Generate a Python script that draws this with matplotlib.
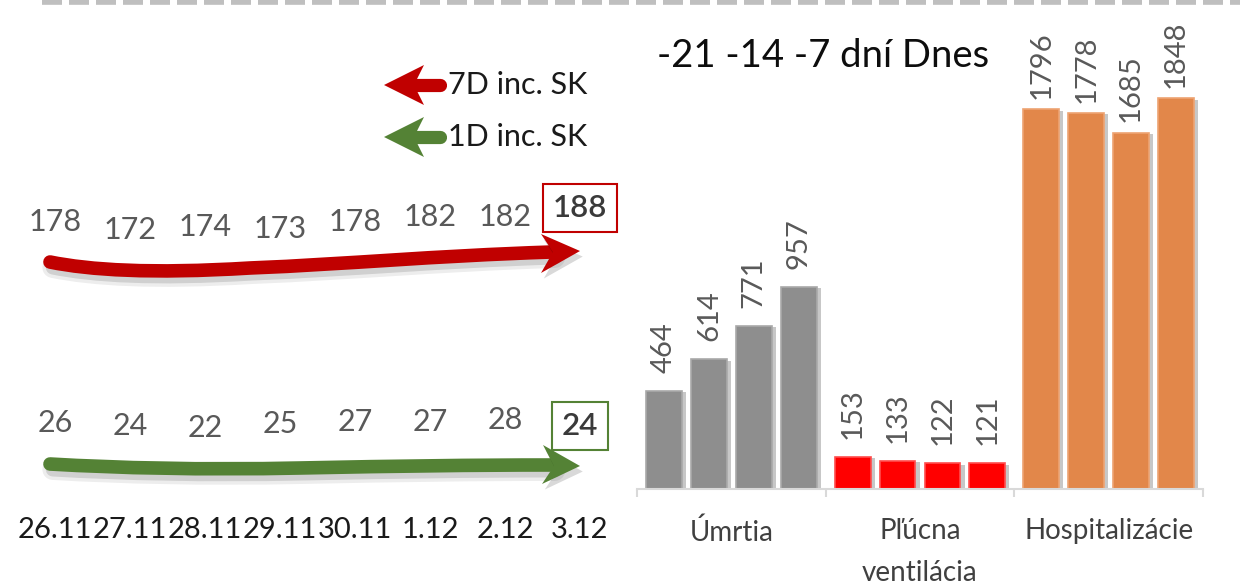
import matplotlib
matplotlib.use("Agg")
import matplotlib.pyplot as plt
import matplotlib.patheffects as pe
import matplotlib.transforms as mtransforms
from matplotlib.path import Path
from matplotlib.patches import PathPatch, Polygon

# ---------------- data ----------------
dates = ["26.11", "27.11", "28.11", "29.11", "30.11", "1.12", "2.12", "3.12"]
inc7 = [178, 172, 174, 173, 178, 182, 182, 188]
inc1 = [26, 24, 22, 25, 27, 27, 28, 24]
legend_labels = ["7D inc. SK", "1D inc. SK"]

groups = ["Úmrtia", "Pľúcna\nventilácia", "Hospitalizácie"]
periods = ["-21", "-14", "-7 dní", "Dnes"]
umrtia = [464, 614, 771, 957]
pluc = [153, 133, 122, 121]
hosp = [1796, 1778, 1685, 1848]

FONT = ["Lato", "DejaVu Sans"]
plt.rcParams["font.family"] = FONT

RED = "#c00000"
GREEN = "#548235"
VAL = "#595959"

W, H = 1240, 586
fig = plt.figure(figsize=(W / 100, H / 100), dpi=100)


def px_axes(x0, y0, x1, y1):
    ax = fig.add_axes([x0 / W, 1 - y1 / H, (x1 - x0) / W, (y1 - y0) / H])
    ax.patch.set_alpha(0)
    return ax


bg = fig.add_axes([0, 0, 1, 1])
bg.set_xlim(0, W)
bg.set_ylim(H, 0)
bg.axis("off")

# top dashed line
lw_dash = 5.5
px2pt = 0.72
bg.plot([41.5, W + 5], [1, 1], color="#bfbfbf", lw=lw_dash,
        linestyle=(0, (20 * px2pt / lw_dash, 7 * px2pt / lw_dash)),
        solid_capstyle="butt", dash_capstyle="butt")

# ---------------- left: series labels ----------------
ax7 = px_axes(17.5, 180, 617.5, 260)
ax7.set_xlim(-0.5, 7.5)
ax7.set_ylim(150.36, 208.55)
ax7.axis("off")
ax1 = px_axes(17.5, 380, 617.5, 460)
ax1.set_xlim(-0.5, 7.5)
ax1.set_ylim(-2.46, 59.08)
ax1.axis("off")

for ax, vals, col in [(ax7, inc7, RED), (ax1, inc1, GREEN)]:
    xs = list(range(len(vals)))
    ax.plot(xs, vals, alpha=0)
    for i, v in enumerate(vals):
        if i == len(vals) - 1:
            ax.text(i, v, str(v), ha="center", va="center", fontsize=22.5,
                    color="#3a3a3a", fontweight="semibold",
                    bbox=dict(boxstyle="square,pad=0.32", fc="white", ec=col, lw=1.5))
        else:
            ax.text(i, v, str(v), ha="center", va="center", fontsize=22, color=VAL)

# date labels
tr = mtransforms.blended_transform_factory(ax7.transData, bg.transData)
for i, d in enumerate(dates):
    bg.text(i, 530, d, transform=tr, ha="center", va="center", fontsize=21,
            color="#1a1a1a")

# ---------------- arrows ----------------
def shaft(verts, color):
    codes = [Path.MOVETO] + [Path.CURVE4] * (len(verts) - 1)
    p = PathPatch(Path(verts, codes), fill=False, ec=color, lw=9.8,
                  capstyle="round", joinstyle="round",
                  path_effects=[pe.SimpleLineShadow(offset=(2, -4), shadow_color="k",
                                                    alpha=0.07, linewidth=15),
                                pe.SimpleLineShadow(offset=(2, -4), shadow_color="k",
                                                    alpha=0.12, linewidth=10),
                                pe.Normal()])
    bg.add_patch(p)


def head(pts, color, shadow=True):
    effects = [pe.SimplePatchShadow(offset=(2, -4), shadow_rgbFace="k", alpha=0.15),
               pe.Normal()] if shadow else None
    bg.add_patch(Polygon(pts, closed=True, fc=color, ec="none", path_effects=effects))


# red main arrow
shaft([(50, 262), (90, 270), (150, 274), (250, 268),
       (350, 264), (430, 256), (552, 252)], RED)
head([(580, 251), (541, 234), (553, 252), (541, 273)], RED)
# green main arrow
shaft([(50, 464), (120, 468), (200, 470), (300, 468),
       (400, 466), (470, 465), (552, 465)], GREEN)
head([(580, 466), (543, 445), (554, 466), (542, 484)], GREEN)

# legend arrows
for yc, col, lab in [(85, RED, legend_labels[0]), (137, GREEN, legend_labels[1])]:
    bg.plot([412, 440], [yc, yc], color=col, lw=9.5, solid_capstyle="round")
    head([(384, yc), (424, yc - 20), (414, yc), (424, yc + 20)], col, shadow=False)
    bg.text(448, yc, lab, ha="left", va="center", fontsize=22, color="#1a1a1a")

# ---------------- right: bar chart ----------------
axb = px_axes(637, 40, 1203, 489)
axb.set_xlim(-0.5, 2.5)
axb.set_ylim(0, 449 / 0.2115)
for s in ["top", "left", "right"]:
    axb.spines[s].set_visible(False)
axb.spines["bottom"].set_color("#d9d9d9")
axb.spines["bottom"].set_linewidth(1.5)
axb.set_yticks([])
axb.set_xticks([-0.5, 0.5, 1.5, 2.5])
axb.set_xticklabels([])
axb.tick_params(axis="x", which="major", length=6, width=1.5, color="#d9d9d9")
axb.set_xticks([0, 1, 2], minor=True)
axb.set_xticklabels(groups, minor=True, fontsize=20, color="#404040")
for t in axb.get_xticklabels(minor=True):
    t.set_linespacing(1.75)
axb.tick_params(axis="x", which="minor", length=0, pad=21)

series = [umrtia, pluc, hosp]
fcols = ["#8e8e8e", "#ff0000", "#e2874a"]
ecols = ["#a9a9a9", "#ff4d4d", "#eea372"]
step, width = 0.238, 0.19
for gi, (vals, fc, ec) in enumerate(zip(series, fcols, ecols)):
    for j, v in enumerate(vals):
        x = gi + (j - 1.5) * step
        axb.bar(x, v, width=width, color=fc, edgecolor=ec, linewidth=1.2,
                path_effects=[pe.SimplePatchShadow(offset=(3, -1), shadow_rgbFace="k",
                                                   alpha=0.22),
                              pe.Normal()])
        off = 7.5 if len(str(v)) > 3 else 13
        axb.annotate(str(v), (x, v), xytext=(0, off), textcoords="offset points",
                     rotation=90, ha="center", va="bottom", fontsize=21, color=VAL)

# title
bg.text(657, 56, " ".join(periods), ha="left", va="center", fontsize=27.5,
        color="#0d0d0d", zorder=10)

fig.savefig("out.png", dpi=100)
